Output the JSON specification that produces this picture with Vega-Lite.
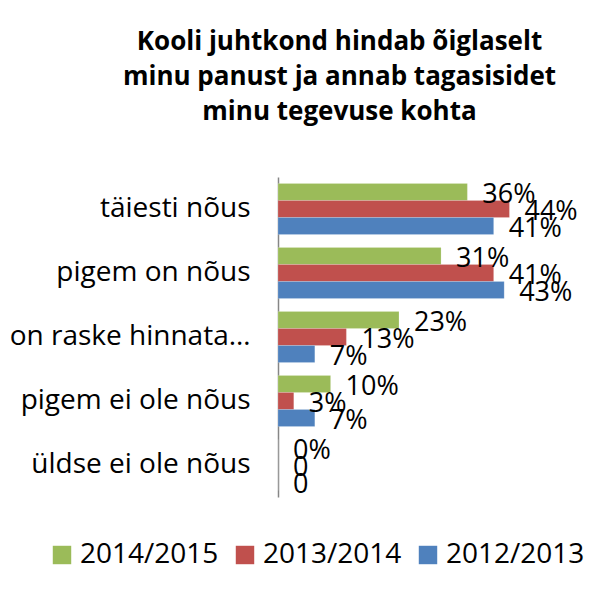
{
  "$schema": "https://vega.github.io/schema/vega-lite/v6.json",
  "autosize": {"type": "none"},
  "padding": {"left": 278, "top": 177, "right": 74, "bottom": 96},
  "width": 263,
  "height": 320,
  "background": "white",
  "title": {
    "text": ["Kooli juhtkond hindab õiglaselt", "minu panust ja annab tagasisidet", "minu tegevuse kohta"],
    "font": "Open Sans",
    "fontSize": 26,
    "fontWeight": "bold",
    "color": "#000000",
    "lineHeight": 35,
    "anchor": "middle",
    "frame": "group",
    "dx": -70,
    "offset": 52
  },
  "data": {
    "values": [
      {"category": "täiesti nõus", "series": "2014/2015", "value": 36, "label": "36%"},
      {"category": "täiesti nõus", "series": "2013/2014", "value": 44, "label": "44%"},
      {"category": "täiesti nõus", "series": "2012/2013", "value": 41, "label": "41%"},
      {"category": "pigem on nõus", "series": "2014/2015", "value": 31, "label": "31%"},
      {"category": "pigem on nõus", "series": "2013/2014", "value": 41, "label": "41%"},
      {"category": "pigem on nõus", "series": "2012/2013", "value": 43, "label": "43%"},
      {"category": "on raske hinnata…", "series": "2014/2015", "value": 23, "label": "23%"},
      {"category": "on raske hinnata…", "series": "2013/2014", "value": 13, "label": "13%"},
      {"category": "on raske hinnata…", "series": "2012/2013", "value": 7, "label": "7%"},
      {"category": "pigem ei ole nõus", "series": "2014/2015", "value": 10, "label": "10%"},
      {"category": "pigem ei ole nõus", "series": "2013/2014", "value": 3, "label": "3%"},
      {"category": "pigem ei ole nõus", "series": "2012/2013", "value": 7, "label": "7%"},
      {"category": "üldse ei ole nõus", "series": "2014/2015", "value": 0, "label": "0%"},
      {"category": "üldse ei ole nõus", "series": "2013/2014", "value": 0, "label": "0"},
      {"category": "üldse ei ole nõus", "series": "2012/2013", "value": 0, "label": "0"}
    ]
  },
  "encoding": {
    "y": {
      "field": "category",
      "type": "nominal",
      "sort": ["täiesti nõus", "pigem on nõus", "on raske hinnata…", "pigem ei ole nõus", "üldse ei ole nõus"],
      "scale": {"paddingInner": 0.2, "paddingOuter": 0.1},
      "axis": {
        "title": null,
        "ticks": false,
        "domainColor": "#868686",
        "domainWidth": 1.5,
        "labelFont": "Open Sans",
        "labelFontSize": 28,
        "labelColor": "#000000",
        "labelPadding": 28,
        "labelLimit": 400,
        "grid": false
      }
    },
    "yOffset": {
      "field": "series",
      "type": "nominal",
      "sort": ["2014/2015", "2013/2014", "2012/2013"],
      "scale": {"paddingInner": 0, "paddingOuter": 0}
    },
    "x": {
      "field": "value",
      "type": "quantitative",
      "scale": {"domain": [0, 50], "nice": false},
      "axis": null
    }
  },
  "layer": [
    {
      "mark": {"type": "bar", "stroke": "white", "strokeOpacity": 0.35, "strokeWidth": 0.5},
      "encoding": {
        "color": {
          "field": "series",
          "type": "nominal",
          "scale": {
            "domain": ["2014/2015", "2013/2014", "2012/2013"],
            "range": ["#9BBB59", "#C0504D", "#4F81BD"]
          },
          "legend": {
            "title": null,
            "orient": "none",
            "direction": "horizontal",
            "legendX": -230,
            "legendY": 364,
            "symbolType": "square",
            "symbolSize": 340,
            "symbolStrokeWidth": 0,
            "symbolOpacity": 1,
            "labelFont": "Open Sans",
            "labelFontSize": 28,
            "labelColor": "#000000",
            "labelOffset": 4,
            "columnPadding": 12,
            "labelLimit": 300
          }
        }
      }
    },
    {
      "mark": {
        "type": "text",
        "align": "left",
        "baseline": "middle",
        "dx": 15,
        "dy": 3,
        "font": "Open Sans",
        "fontSize": 27,
        "color": "#000000"
      },
      "encoding": {
        "text": {"field": "label"}
      }
    }
  ],
  "config": {
    "view": {"stroke": null}
  }
}
